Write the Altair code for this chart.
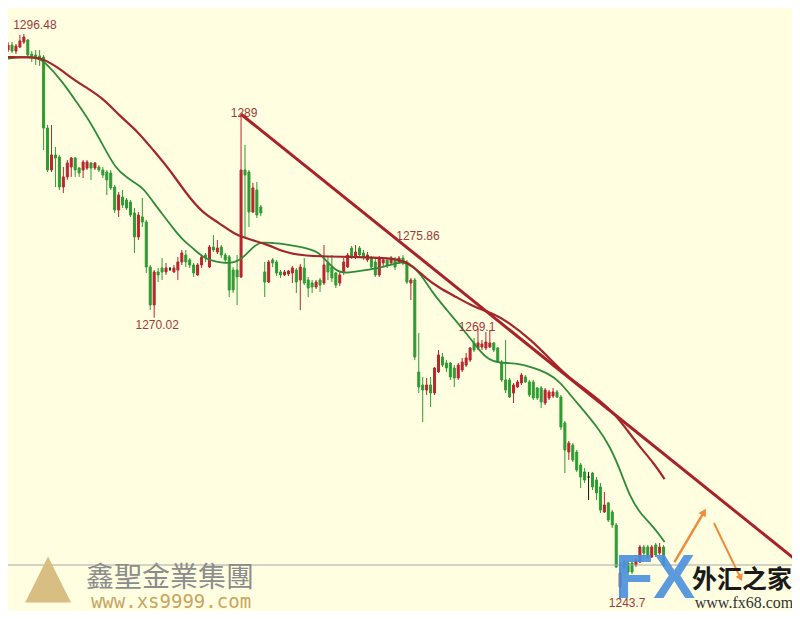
import altair as alt
import pandas as pd
import numpy as np

# ---------------- data ----------------
opens = [1294.99,1295.45,1294.89,1295.27,1295.73,1295.92,1294.61,1294.52,1294.43,1294.33,
         1287.71,1283.80,1285.20,1285.01,1282.21,1283.15,1284.08,1284.92,1283.98,1283.80,
         1283.98,1284.45,1283.98,1284.08,1283.80,1283.61,1283.52,1282.21,1280.07,1281.28,
         1281.00,1280.81,1279.79,1277.55,1279.42,1278.95,1274.75,1271.21,1274.29,1274.66,
         1274.29,1274.57,1274.29,1274.47,1275.22,1275.87,1275.41,1274.94,1274.01,1274.94,
         1275.87,1274.75,1276.62,1276.15,1276.62,1275.87,1275.69,1274.47,1274.47,1273.82,
         1283.80,1283.61,1279.88,1281.93,1280.35,1274.29,1273.35,1275.41,1275.22,1274.29,
         1274.01,1274.10,1274.19,1274.47,1273.54,1274.66,1273.54,1273.26,1272.89,1273.54,
         1273.26,1275.13,1274.75,1274.19,1273.26,1274.29,1274.75,1276.52,1275.69,1276.52,
         1276.06,1275.41,1275.59,1275.22,1274.01,1275.13,1275.41,1275.13,1275.41,1275.22,
         1275.59,1275.22,1273.26,1273.54,1264.96,1263.75,1263.28,1263.75,1263.00,1264.96,
         1266.36,1265.80,1265.80,1265.33,1264.40,1265.15,1265.61,1266.08,1267.67,1267.20,
         1267.29,1267.20,1267.29,1267.67,1267.20,1265.89,1264.22,1264.22,1263.00,1263.56,
         1263.94,1264.50,1264.03,1264.03,1263.47,1263.47,1262.07,1262.54,1262.72,1263.10,
         1262.63,1260.21,1257.50,1258.15,1257.50,1256.29,1255.64,1255.17,1255.54,1254.89,
         1254.24,1251.91,1252.75,1251.91,1250.69,1244.91,1247.24,1247.15,1247.15,1246.96,
         1247.24,1248.64,1248.64,1247.71,1248.83,1248.08,1248.64]
highs = [1295.73,1295.73,1295.55,1296.39,1296.48,1296.01,1294.89,1294.99,1294.99,1294.52,
         1287.99,1287.99,1285.94,1285.20,1284.08,1284.73,1285.01,1285.01,1284.08,1284.73,
         1284.73,1284.54,1284.54,1284.26,1284.08,1283.80,1283.80,1282.40,1281.75,1281.93,
         1281.19,1281.00,1280.25,1279.88,1281.19,1279.14,1274.94,1274.47,1274.66,1275.59,
         1275.13,1274.75,1274.94,1275.69,1276.34,1276.34,1275.59,1275.13,1275.13,1275.87,
         1276.06,1276.80,1277.74,1277.27,1276.80,1276.06,1275.87,1274.75,1275.87,1289.00,
         1286.13,1283.80,1282.59,1282.68,1280.53,1275.22,1275.41,1275.59,1275.41,1274.47,
         1274.47,1274.47,1274.85,1274.66,1275.03,1275.59,1273.82,1273.54,1273.54,1273.73,
         1276.80,1275.69,1275.87,1274.29,1274.29,1275.59,1276.06,1276.71,1276.80,1276.71,
         1276.34,1276.15,1275.78,1275.59,1275.78,1275.59,1275.59,1275.78,1275.69,1275.78,
         1275.86,1275.41,1273.73,1273.73,1268.60,1264.50,1264.40,1264.50,1265.43,1267.01,
         1266.73,1266.08,1265.89,1265.61,1265.80,1266.27,1266.73,1267.29,1268.13,1269.10,
         1267.95,1268.69,1268.88,1267.76,1267.29,1266.08,1267.95,1264.40,1263.94,1264.22,
         1264.87,1264.68,1264.22,1264.22,1263.56,1263.66,1263.47,1263.28,1263.47,1263.28,
         1262.82,1260.39,1258.53,1258.34,1257.69,1256.48,1256.01,1255.64,1255.64,1255.17,
         1254.61,1253.77,1252.84,1252.09,1250.88,1247.24,1247.43,1247.34,1247.34,1247.62,
         1248.83,1248.83,1248.83,1248.83,1249.02,1249.02,1248.83]
lows = [1294.80,1294.71,1294.61,1295.17,1295.55,1294.43,1293.87,1293.59,1293.50,1285.66,
        1283.61,1283.61,1282.21,1281.93,1281.65,1282.87,1283.15,1283.15,1283.15,1283.05,
        1283.80,1282.87,1283.80,1283.61,1283.05,1281.47,1281.93,1279.79,1279.42,1280.25,
        1280.07,1279.42,1276.06,1277.27,1278.48,1274.19,1270.74,1270.02,1273.35,1273.54,
        1274.01,1274.38,1274.19,1273.54,1274.94,1274.75,1274.66,1273.82,1273.91,1274.66,
        1275.22,1274.66,1276.15,1275.96,1275.59,1275.22,1271.95,1272.33,1271.21,1273.73,
        1277.55,1278.48,1279.79,1279.32,1279.51,1271.95,1273.26,1274.75,1273.91,1273.73,
        1273.91,1273.91,1273.26,1272.33,1270.74,1273.07,1271.95,1272.33,1272.70,1272.42,
        1273.07,1273.54,1273.35,1272.79,1272.98,1274.01,1274.66,1275.50,1275.50,1275.69,
        1275.41,1275.22,1274.47,1273.82,1273.82,1274.85,1274.66,1274.94,1274.47,1275.03,
        1274.94,1273.17,1271.68,1266.08,1263.00,1260.30,1262.82,1261.70,1262.82,1264.87,
        1265.43,1264.96,1264.22,1263.56,1264.22,1264.96,1265.43,1265.89,1266.83,1267.01,
        1267.01,1267.01,1267.20,1266.83,1265.80,1264.03,1263.00,1262.54,1262.07,1263.47,
        1263.75,1263.94,1262.63,1262.35,1262.35,1261.60,1261.88,1262.35,1262.54,1262.54,
        1259.55,1255.54,1256.76,1256.57,1255.64,1254.14,1254.61,1253.03,1253.96,1253.03,
        1251.81,1251.81,1250.97,1250.41,1246.68,1243.70,1246.50,1246.03,1246.12,1246.78,
        1247.15,1247.62,1247.52,1247.62,1247.71,1247.90,1246.78]
closes = [1295.45,1294.89,1295.36,1295.83,1296.20,1294.52,1294.33,1294.33,1294.24,1287.71,
          1283.80,1285.20,1284.92,1282.21,1283.15,1284.45,1284.92,1283.80,1283.52,1284.54,
          1284.54,1283.98,1284.45,1283.80,1283.33,1282.87,1282.12,1280.07,1281.47,1280.53,
          1280.25,1279.60,1277.55,1279.60,1278.95,1274.75,1271.21,1274.29,1274.01,1274.29,
          1274.66,1274.57,1274.66,1275.22,1276.06,1275.22,1274.94,1274.19,1274.94,1275.69,
          1275.59,1276.62,1276.34,1276.52,1275.87,1275.41,1272.61,1272.61,1273.82,1283.80,
          1283.33,1279.88,1282.12,1279.60,1279.79,1273.35,1275.22,1275.13,1274.19,1274.01,
          1274.29,1274.38,1274.66,1273.35,1274.75,1273.26,1272.79,1272.89,1273.35,1273.07,
          1274.94,1274.29,1273.73,1273.07,1274.01,1275.22,1275.87,1275.69,1276.15,1275.87,
          1275.69,1275.87,1274.75,1274.01,1275.59,1275.41,1274.94,1275.59,1274.75,1275.59,
          1275.22,1273.35,1273.54,1266.36,1263.56,1263.28,1263.75,1263.00,1265.33,1266.55,
          1265.61,1265.33,1264.50,1264.40,1265.61,1265.89,1266.27,1267.20,1267.01,1267.67,
          1267.57,1267.76,1267.67,1267.01,1265.89,1264.22,1263.28,1262.63,1263.75,1264.03,
          1264.68,1264.03,1262.82,1262.54,1262.54,1262.16,1263.28,1263.10,1263.10,1262.63,
          1259.83,1257.69,1258.34,1256.76,1255.82,1255.17,1254.89,1255.17,1254.24,1253.68,
          1252.09,1252.56,1251.16,1250.69,1246.78,1246.22,1246.78,1246.31,1246.31,1247.43,
          1248.64,1248.08,1247.71,1248.64,1247.90,1248.64,1246.96]

green_ma_idx = [-0.75,2.5,7.5,9.25,13.5,17.5,21,24.25,27.5,30,31.75,34.25,36.75,39.25,41.75,
                44.25,46.75,49.25,51.75,54.25,57.5,60,62.5,64.25,66.75,70,74.25,78.5,81,83.5,
                85.5,89.25,95,98.5,100,102.5,105,107.5,111.75,116,119.25,121.75,124.25,128.5,
                132.5,136.75,140,141.75,145,149.25,152.5,155,157.5,160,163.5,166.25]
green_ma_val = [1294.15,1294.33,1294.33,1293.87,1292.19,1290.05,1288.18,1285.94,1283.80,1283.15,
                1282.68,1282.12,1280.81,1279.60,1278.39,1277.27,1276.52,1275.69,1275.31,1275.13,
                1275.13,1275.78,1276.80,1277.08,1276.99,1276.90,1276.62,1276.24,1275.13,1274.29,
                1274.19,1274.38,1274.75,1275.13,1275.22,1274.85,1273.82,1272.33,1270.46,1268.60,
                1267.01,1266.08,1265.80,1265.80,1265.43,1264.87,1263.94,1263.10,1261.70,1259.83,
                1257.97,1255.82,1253.30,1251.81,1250.51,1249.11]

red_ma_idx = [-0.75,7.5,9.25,12.5,16,20,24.25,28.5,32.5,36.75,41,45,49.25,53.5,57.5,61.75,66,
              70,74.25,86.75,99.25,102.5,106,109.25,113.5,117.5,122.5,126.75,132.5,137.5,141.75,
              147.5,153.5,156.75,160,163.5,166.25]
red_ma_val = [1294.33,1294.33,1294.06,1293.40,1292.38,1291.44,1290.42,1288.74,1287.53,1285.66,
              1283.80,1281.65,1279.79,1278.86,1277.74,1277.27,1276.80,1276.15,1275.78,1275.69,
              1275.59,1274.85,1273.63,1272.79,1271.95,1271.12,1270.46,1269.62,1267.94,1266.08,
              1264.50,1263.00,1261.14,1259.55,1257.97,1256.47,1254.98]

trend_idx = [59, 200]
trend_val = [1289.00, 1247.28]

label_text = ["1296.48", "1289", "1275.86", "1270.02", "1269.1", "1243.7"]
label_idx = [4, 59, 100, 37, 119, 155]
label_val = [1296.48, 1289.00, 1275.86, 1270.02, 1269.10, 1243.70]

arrow_up_idx = [168.75, 176.25]
arrow_up_val = [1247.24, 1251.91]
arrow_dn_idx = [178.75, 185.5]
arrow_dn_val = [1250.88, 1245.75]

# ---------------- styling ----------------
BG = "#FFFEE1"
RED = "#B8262E"
GREEN = "#2F9B33"
W, H = 784, 603

xs = alt.Scale(domain=[1.25, 197.25], nice=False, zero=False)
ys = alt.Scale(domain=[1242.674, 1298.904], nice=False, zero=False)
cs = alt.Scale(domain=["up", "down", "flat"], range=[RED, GREEN, "#111111"])

df = pd.DataFrame({"i": np.arange(len(opens)), "open": opens, "high": highs,
                   "low": lows, "close": closes})
df["dir"] = np.where(df["close"] > df["open"], "up",
                     np.where(df["close"] < df["open"], "down", "flat"))

X = lambda f: alt.X(f, type="quantitative", scale=xs, axis=None)
Y = lambda f: alt.Y(f, type="quantitative", scale=ys, axis=None)

base = alt.Chart(df)
wicks = base.mark_rule(strokeWidth=1, clip=True).encode(
    x=X("i"), y=Y("low"), y2="high",
    color=alt.Color("dir:N", scale=cs, legend=None))
bodies = base.mark_bar(size=2, strokeWidth=1, clip=True).encode(
    x=X("i"), y=Y("open"), y2="close",
    color=alt.Color("dir:N", scale=cs, legend=None),
    stroke=alt.Stroke("dir:N", scale=cs, legend=None))

gma = alt.Chart(pd.DataFrame({"x": green_ma_idx, "y": green_ma_val})).mark_line(
    color="#2E8C38", strokeWidth=1.8, clip=True, interpolate="basis").encode(x=X("x"), y=Y("y"), order="x:Q")
rma = alt.Chart(pd.DataFrame({"x": red_ma_idx, "y": red_ma_val})).mark_line(
    color="#A3262A", strokeWidth=2.2, clip=True, interpolate="basis").encode(x=X("x"), y=Y("y"), order="x:Q")
trend = alt.Chart(pd.DataFrame({"x": trend_idx, "y": trend_val})).mark_line(
    color="#A8222A", strokeWidth=3, clip=True).encode(x=X("x"), y=Y("y"))

label_dx = [11, 3, 15, 3, -1, 7]
label_dy = [-9, -1, -19, 7, -1, 3]
labels = []
for t, ix, v, ddx, ddy in zip(label_text, label_idx, label_val, label_dx, label_dy):
    labels.append(alt.Chart(pd.DataFrame({"x": [ix], "y": [v], "t": [t]})).mark_text(
        font="Liberation Sans", fontSize=12, color="#A03A3A", align="center",
        baseline="middle", dx=ddx, dy=ddy).encode(x=X("x"), y=Y("y"), text="t:N"))

ORANGE = "#F28A3C"
arr1 = alt.Chart(pd.DataFrame({"x": arrow_up_idx, "y": arrow_up_val})).mark_line(
    color=ORANGE, strokeWidth=2.5).encode(x=X("x"), y=Y("y"))
arr2 = alt.Chart(pd.DataFrame({"x": arrow_dn_idx, "y": arrow_dn_val})).mark_line(
    color=ORANGE, strokeWidth=2.0).encode(x=X("x"), y=Y("y"))
head1 = alt.Chart(pd.DataFrame({"x": arrow_up_idx[-1:], "y": arrow_up_val[-1:]})).mark_point(
    shape="triangle-up", filled=True, size=70, angle=31, color=ORANGE, opacity=1).encode(x=X("x"), y=Y("y"))
head2 = alt.Chart(pd.DataFrame({"x": arrow_dn_idx[-1:], "y": arrow_dn_val[-1:]})).mark_point(
    shape="triangle-up", filled=True, size=60, angle=154, color=ORANGE, opacity=1).encode(x=X("x"), y=Y("y"))

one = pd.DataFrame({"a": [0]})
sep = alt.Chart(one).mark_rule(color="#A8A8A8", strokeWidth=1).encode(
    x=alt.value(0), x2=alt.value(W), y=alt.value(557))

def wm(text, x, y, **kw):
    return alt.Chart(pd.DataFrame({"t": [text]})).mark_text(
        align="center", baseline="middle", **kw).encode(
        x=alt.value(x), y=alt.value(y), text="t:N")

water = [
    wm("▲", 40, 569, font="DejaVu Sans", fontSize=60, color="#D9BE84"),
    wm("鑫聖金業集團", 162, 571, font="Noto Sans CJK TC", fontSize=28, color="#8C8C8C"),
    wm("www.xs9999.com", 163, 594, font="DejaVu Sans Mono", fontSize=19, color="#C8A461"),
    wm("FX", 647, 571, font="Liberation Sans", fontSize=63, fontWeight="bold",
       color="#4A90DD", opacity=0.9),
    wm("外汇之家", 734, 572, font="Noto Sans CJK SC", fontSize=25, fontWeight="bold",
       color="#1A1A1A"),
    wm("www.fx68.com", 736, 595, font="Liberation Serif", fontSize=16, color="#333333"),
]

chart = alt.layer(
    wicks, bodies, gma, rma, trend, *labels, arr1, arr2, head1, head2, sep, *water
).properties(
    width=W, height=H, background=BG, padding=0,
    autosize=alt.AutoSizeParams(type="none")
).configure_view(stroke=None, fill=BG)

chart.save("out.html", embed_options={"renderer": "svg", "actions": False})
